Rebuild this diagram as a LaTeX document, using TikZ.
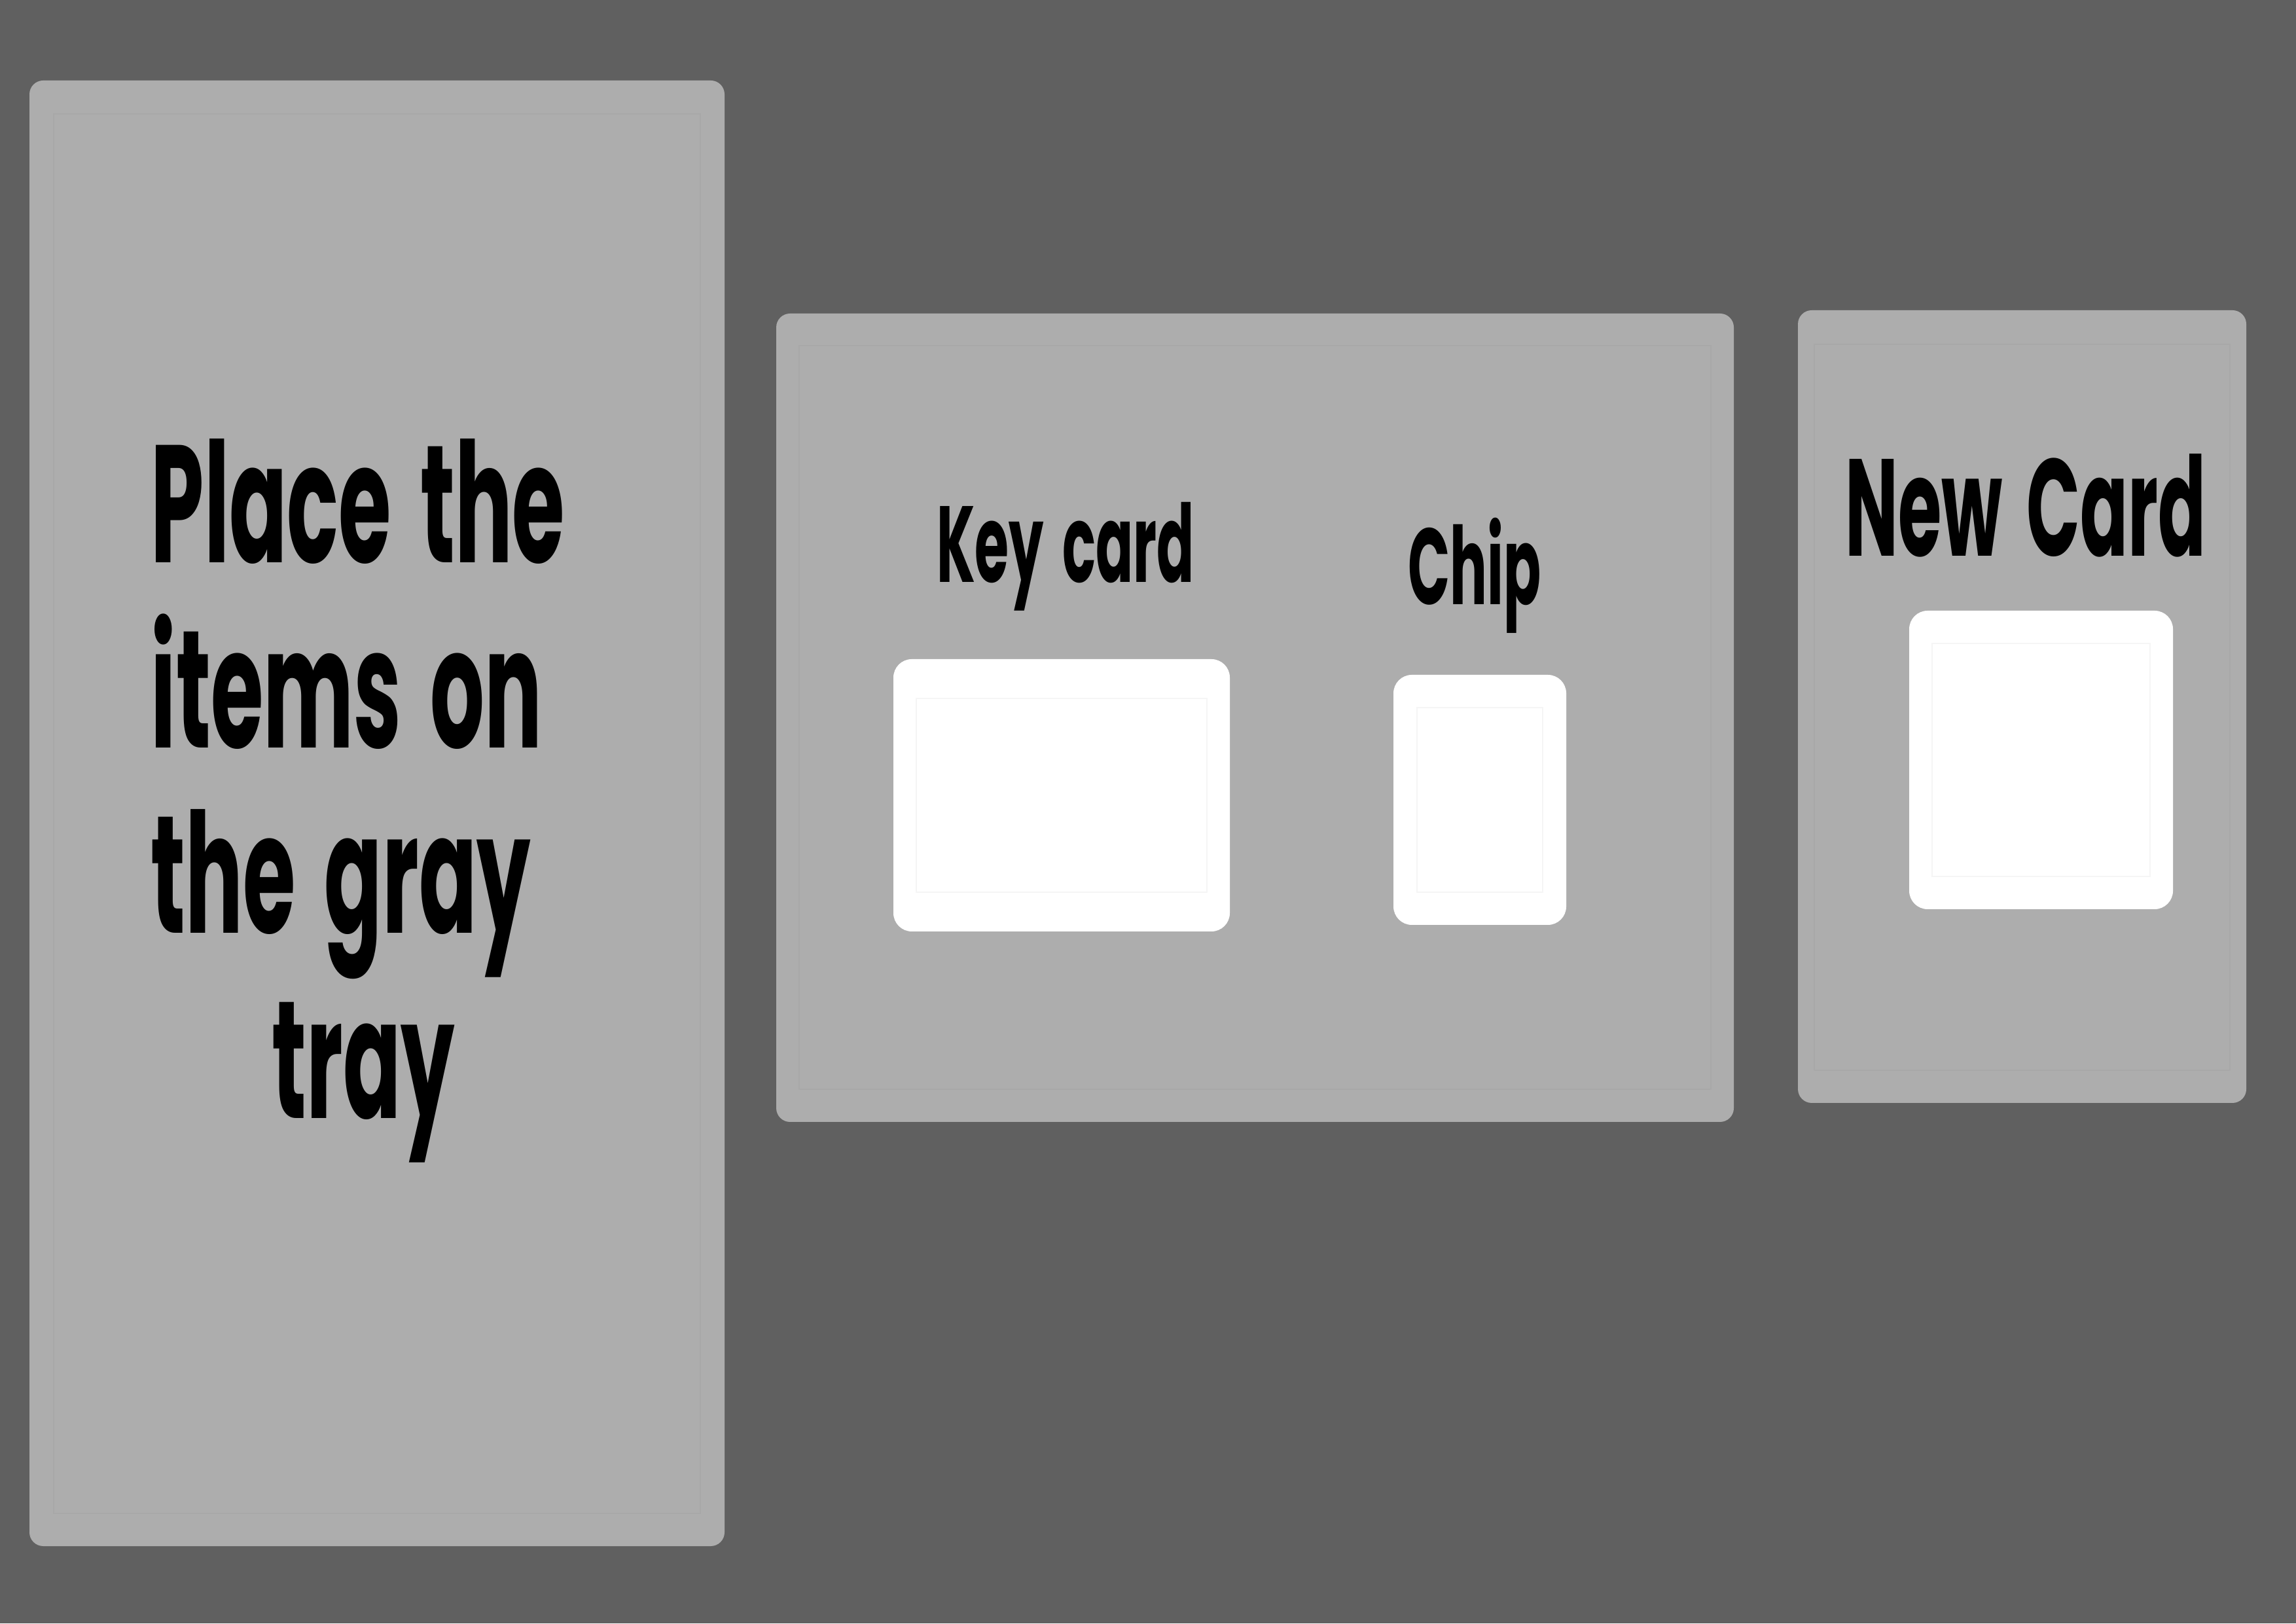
\documentclass[tikz,border=0pt]{standalone}
\usepackage{fontspec}
\newfontfamily\trayfont[FakeStretch=0.51,WordSpace=1.6]{Poppins}
\usepackage{tikz}
\definecolor{bgdark}{HTML}{606060}
\definecolor{traygray}{HTML}{ADADAD}
\definecolor{seamgray}{HTML}{A8A8A8}
\definecolor{slotseam}{HTML}{F5F5F5}

\begin{document}
\begin{tikzpicture}[
    tray/.style={fill=traygray,rounded corners=6pt},
    slot/.style={fill=white,rounded corners=8pt},
    seam/.style={draw=seamgray,line width=0.5pt},
    slotline/.style={draw=slotseam,line width=0.5pt},
    label/.style={text=black,inner sep=0pt}
  ]
    \fill[bgdark](0,0)rectangle(35.08,24.80);

    % trays
    \fill[tray](0.45,1.18)rectangle(11.07,23.57);
    \fill[tray](11.86,7.66)rectangle(26.49,20.01);
    \fill[tray](27.47,7.95)rectangle(34.32,20.06);
    \draw[seam](0.82,1.68)rectangle(10.70,23.06);
    \draw[seam](12.21,8.16)rectangle(26.14,19.52);
    \draw[seam](27.72,8.45)rectangle(34.07,19.54);

    % slots
    \fill[slot](13.65,10.57)rectangle(18.79,14.73);
    \fill[slot](21.29,10.67)rectangle(23.93,14.49);
    \fill[slot](29.17,10.91)rectangle(33.20,15.47);
    \draw[slotline](14.00,11.17)rectangle(18.44,14.13);
    \draw[slotline](21.65,11.17)rectangle(23.57,13.99);
    \draw[slotline](29.52,11.41)rectangle(32.85,14.97);

    % labels
    \node[label,align=left,anchor=base west,
      font=\trayfont\bfseries\fontsize{72.7pt}{80.6pt}\selectfont]
      (hint) at (2.30,7.71) {Place the\\items on\\the gray\\\hspace*{1.85cm}tray};
    \node[label,anchor=base,font=\trayfont\bfseries\fontsize{47pt}{52pt}\selectfont]
      (keycard) at (16.28,15.90) {Key card};
    \node[label,anchor=base,font=\trayfont\bfseries\fontsize{47pt}{52pt}\selectfont]
      (chip) at (22.53,15.56) {Chip};
    \node[label,anchor=base,font=\trayfont\bfseries\fontsize{60pt}{66pt}\selectfont]
      (newcard) at (30.95,16.30) {New Card};
\end{tikzpicture}
\end{document}
